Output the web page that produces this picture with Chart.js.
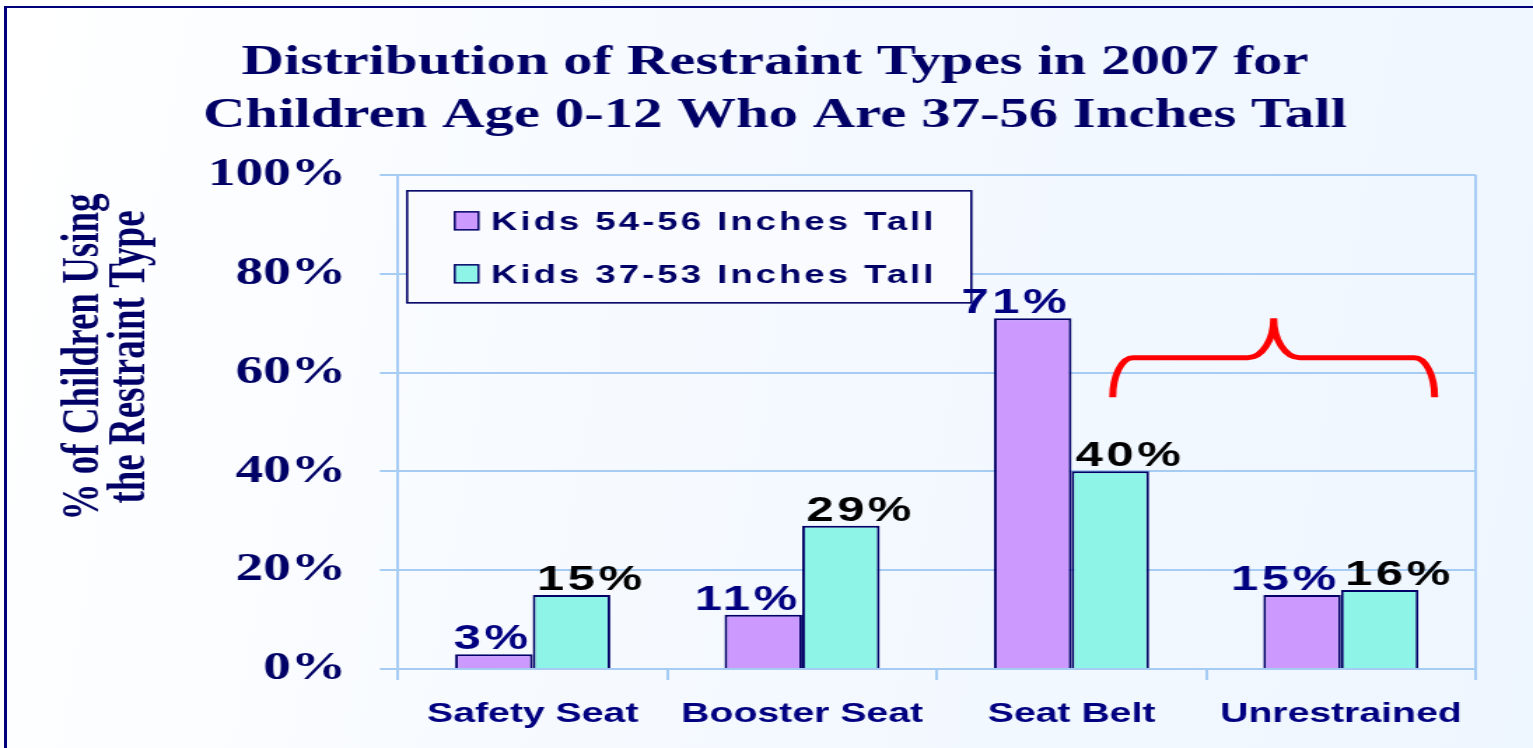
<!DOCTYPE html>
<html lang="en">
<head>
  <meta charset="UTF-8" />
  <title>Distribution of Restraint Types in 2007</title>
  <script src="https://cdn.jsdelivr.net/npm/chart.js"></script>
  <style>
    * { margin: 0; padding: 0; box-sizing: border-box; }
    html, body { width: 1533px; height: 748px; overflow: hidden; }
    body { background: linear-gradient(100deg, #ffffff 0%, #f6faff 40%, #eef6ff 100%); position: relative; }
    .frame {
      position: absolute; left: 4px; top: 6px; right: -10px; bottom: -10px;
      border-left: 3px solid #00007a; border-top: 2px solid #00007a;
    }
    /* the original picture is stretched sideways, so the canvas is too */
    #chart { position: absolute; left: 0; top: 0; transform: scaleX(1.4); transform-origin: 0 0; }
  </style>
</head>
<body>
<div class="frame"></div>
<canvas id="chart" width="1095" height="748"></canvas>

<script>
  const categories = ['Safety Seat', 'Booster Seat', 'Seat Belt', 'Unrestrained'];
  const seriesNames = ['Kids 54-56 Inches Tall', 'Kids 37-53 Inches Tall'];
  const kids54to56 = [3, 11, 71, 15];
  const kids37to53 = [15, 29, 40, 16];
  const yTickLabels = ['0%', '20%', '40%', '60%', '80%', '100%'];
  const titleLines = ['Distribution of Restraint Types in 2007 for', 'Children Age 0-12 Who Are 37-56 Inches Tall'];
  const yTitleLines = ['% of Children Using', 'the Restraint Type'];

  const NAVY = '#000066';
  const GRID = '#a6ccf4';

  // y title, drawn by hand so it can sit a bit above the middle like the original
  const yTitlePlugin = {
    id: 'yTitle',
    afterDraw(chart) {
      const ctx = chart.ctx;
      ctx.save();
      ctx.fillStyle = NAVY;
      ctx.font = 'bold 37px "Liberation Serif"';
      ctx.textAlign = 'center';
      ctx.textBaseline = 'alphabetic';
      [70, 103].forEach((x, i) => {
        ctx.save();
        ctx.translate(x, 357);
        ctx.rotate(-Math.PI / 2);
        ctx.fillText(yTitleLines[i], 0, 0);
        ctx.restore();
      });
      ctx.restore();
    }
  };

  // boxed legend inside the plot
  const boxLegend = {
    id: 'boxLegend',
    afterDatasetsDraw(chart) {
      const ctx = chart.ctx, a = chart.chartArea;
      const left = a.left + 6.5, top = a.top + 16, w = 403, h = 112;
      ctx.save();
      ctx.fillStyle = '#f9fbff';
      ctx.fillRect(left, top, w, h);
      ctx.strokeStyle = NAVY;
      ctx.lineWidth = 1.6;
      ctx.strokeRect(left, top, w, h);
      ctx.font = 'bold 26px "Liberation Sans"';
      ctx.letterSpacing = '2.2px';
      ctx.textBaseline = 'alphabetic';
      chart.data.datasets.forEach((ds, i) => {
        const base = top + 39 + i * 53;
        ctx.fillStyle = ds.backgroundColor;
        ctx.fillRect(left + 34, base - 18, 17, 18);
        ctx.strokeStyle = NAVY;
        ctx.lineWidth = 1.5;
        ctx.strokeRect(left + 34, base - 18, 17, 18);
        ctx.fillStyle = NAVY;
        ctx.fillText(ds.label, left + 60, base);
      });
      ctx.restore();
    }
  };

  // value labels over the bars
  const valueLabels = {
    id: 'valueLabels',
    afterDatasetsDraw(chart) {
      const ctx = chart.ctx;
      ctx.save();
      ctx.font = 'bold 35px "Liberation Sans"';
      ctx.letterSpacing = '2.5px';
      ctx.textBaseline = 'alphabetic';
      chart.data.datasets.forEach((ds, i) => {
        chart.getDatasetMeta(i).data.forEach((bar, j) => {
          const txt = ds.data[j] + '%';
          ctx.fillStyle = i === 0 ? '#000080' : '#000000';
          // first series hugs the right edge of its bar, second the left
          if (i === 0) { ctx.textAlign = 'right'; ctx.fillText(txt, bar.x + bar.width / 2 - 1, bar.y - 5); }
          else { ctx.textAlign = 'left'; ctx.fillText(txt, bar.x - bar.width / 2 + 3, bar.y - 5); }
        });
      });
      ctx.restore();
    }
  };

  // red brace over Seat Belt / Unrestrained
  const brace = { from: [2, 0.153], to: [3, 0.348], low: 55, mid: 63, tip: 71 };
  const bracePlugin = {
    id: 'brace',
    afterDatasetsDraw(chart) {
      const ctx = chart.ctx, x = chart.scales.x, y = chart.scales.y;
      const cw = x.getPixelForValue(1) - x.getPixelForValue(0);
      const L = x.getPixelForValue(brace.from[0]) + brace.from[1] * cw;
      const R = x.getPixelForValue(brace.to[0]) + brace.to[1] * cw;
      const T = (L + R) / 2;
      const yLow = y.getPixelForValue(brace.low), yMid = y.getPixelForValue(brace.mid), yTip = y.getPixelForValue(brace.tip);
      const rx = 14.5, rx2 = 18.6;
      ctx.save();
      ctx.strokeStyle = '#ff0000';
      ctx.lineWidth = 5;
      ctx.beginPath();
      ctx.ellipse(L + rx, yLow, rx, yLow - yMid, 0, Math.PI, Math.PI * 1.5);
      ctx.lineTo(T - rx2, yMid);
      ctx.ellipse(T - rx2, yTip, rx2, yMid - yTip, 0, Math.PI / 2, 0, true);
      ctx.ellipse(T + rx2, yTip, rx2, yMid - yTip, 0, Math.PI, Math.PI / 2, true);
      ctx.lineTo(R - rx, yMid);
      ctx.ellipse(R - rx, yLow, rx, yLow - yMid, 0, Math.PI * 1.5, Math.PI * 2);
      ctx.stroke();
      ctx.restore();
    }
  };

  new Chart(document.getElementById('chart'), {
    type: 'bar',
    data: {
      labels: categories,
      datasets: [
        { label: seriesNames[0], data: kids54to56, backgroundColor: '#cc99ff', borderColor: NAVY, borderWidth: 2 },
        { label: seriesNames[1], data: kids37to53, backgroundColor: '#8ff4e8', borderColor: NAVY, borderWidth: 2 }
      ]
    },
    options: {
      responsive: false,
      animation: false,
      devicePixelRatio: 1,
      categoryPercentage: 0.576,
      barPercentage: 1.0,
      layout: { padding: { left: 53, right: 41, top: 0, bottom: 0 } },
      plugins: {
        legend: { display: false },
        tooltip: { enabled: false },
        title: {
          display: true,
          text: titleLines,
          color: NAVY,
          font: { family: 'Liberation Serif', weight: 'bold', size: 42, lineHeight: 1.26 },
          padding: { top: 37, bottom: 32 }
        }
      },
      scales: {
        x: {
          offset: true,
          grid: {
            offset: true,
            color: c => (c.index === 0 || c.index === undefined) ? GRID : 'rgba(0,0,0,0)',
            tickColor: GRID,
            lineWidth: 2,
            tickLength: 11
          },
          border: { color: GRID, width: 2 },
          ticks: { color: '#000080', padding: 17, font: { family: 'Liberation Sans', weight: 'bold', size: 28 } },
          afterFit: s => { s.height = 79; }
        },
        y: {
          min: 0, max: 100,
          ticks: {
            stepSize: 20,
            padding: 24,
            color: NAVY,
            font: { family: 'Liberation Serif', weight: 'bold', size: 39.5 },
            callback: (v, i) => yTickLabels[i]
          },
          grid: { color: GRID, lineWidth: 2, tickLength: 13 },
          border: { color: GRID, width: 2 },
          afterFit: s => { s.width = 231.3; }
        }
      }
    },
    plugins: [yTitlePlugin, boxLegend, valueLabels, bracePlugin]
  });
</script>
</body>
</html>
